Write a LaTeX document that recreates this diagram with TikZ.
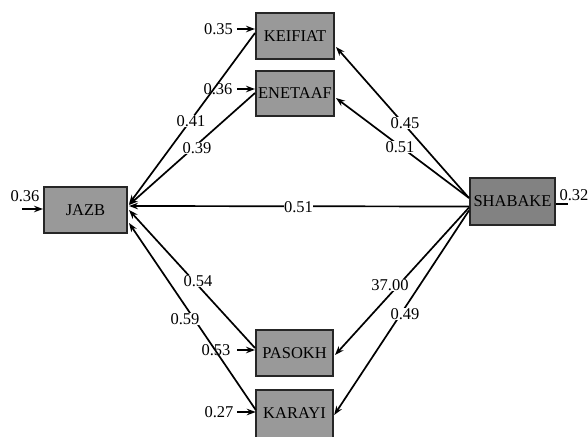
\documentclass[tikz,border=0pt]{standalone}
\usepackage{fontspec}
\setmainfont{Liberation Serif}
\usetikzlibrary{arrows.meta,calc}
\definecolor{boxgray}{RGB}{153,153,153}
\definecolor{boxdark}{RGB}{130,130,130}
\tikzset{
  var/.style={draw=black!85, line width=2pt, fill=boxgray, minimum width=78pt, minimum height=46pt, inner sep=0pt, font=\fontsize{16.5}{19}\selectfont},
  conn/.style={line width=1.7pt, -{Stealth[length=9pt,width=6.5pt]}},
  plain/.style={line width=1.7pt},
  lbl/.style={fill=white, inner sep=0.5pt, font=\fontsize{16.5}{19}\selectfont},
  err/.style={inner sep=0.5pt, font=\fontsize{16.5}{19}\selectfont}
}
\begin{document}
\begin{tikzpicture}[x=1pt,y=-1pt]
\useasboundingbox (0,0) rectangle (588,436);
% boxes
\node[var] (KEIFIAT) at (295,36) {KEIFIAT};
\node[var, minimum height=45pt] (ENETAAF) at (295,93.5) {ENETAAF};
\node[var, minimum width=83pt] (JAZB) at (85.5,210) {JAZB};
\node[var, fill=boxdark, minimum width=85pt, minimum height=47pt] (SHABAKE) at (512.5,201.5) {SHABAKE};
\node[var, minimum width=77pt] (PASOKH) at (294.5,353) {PASOKH};
\fill[boxgray] (256,390) rectangle (333,446);
\draw[black!85, line width=2pt] (256,446) -- (256,390) -- (333,390) -- (333,446);
\node[minimum width=77pt, minimum height=46pt, inner sep=0pt, font=\fontsize{16.5}{19}\selectfont] (KARAYI) at (294.5,413) {KARAYI};

% error terms
\node[err] (eK) at (218.5,29) {0.35};
\node[err] (eE) at (218,89) {0.36};
\node[err] (eJ) at (25,196) {0.36};
\node[err] (eP) at (216,350) {0.53};
\node[err] (eR) at (219,412) {0.27};
\node[err] (eS) at (574,195) {0.32};
\coordinate (aK) at (237,29);
\coordinate (aE) at (237,89);
\coordinate (aJ) at (22,209);
\coordinate (aP) at (237,350);
\coordinate (aR) at (237,412);
\coordinate (aS) at (568,204);
\draw[conn] (aK) -- ($(KEIFIAT.west)+(0,-7)$);
\draw[conn] (aE) -- ($(ENETAAF.west)+(0,-4.5)$);
\draw[conn] (aJ) -- ($(JAZB.west)+(0,-1)$);
\draw[conn] (aP) -- ($(PASOKH.west)+(0,-3)$);
\draw[conn] (aR) -- ($(KARAYI.west)+(0,-1)$);
\draw[plain] ($(SHABAKE.east)+(0,2.5)$) -- (aS);

% paths to JAZB
\draw[conn] ($(KEIFIAT.west)+(0,-3)$) -- ($(JAZB.east)+(1,-6)$);
\draw[conn] ($(ENETAAF.west)+(0,-0.5)$) -- ($(JAZB.east)+(1,-5)$);
\draw[conn] ($(SHABAKE.west)+(0,5)$) -- ($(JAZB.east)+(1,-4)$);
\draw[conn] ($(PASOKH.west)+(0,-5)$) -- ($(JAZB.east)+(1,0)$);
\draw[conn] ($(KARAYI.west)+(0,-3)$) -- ($(JAZB.east)+(1,13)$);
% paths from SHABAKE
\draw[conn] ($(SHABAKE.west)+(0,-3.5)$) -- ($(KEIFIAT.east)+(1,11)$);
\draw[conn] ($(SHABAKE.west)+(0,-3.5)$) -- ($(ENETAAF.east)+(1,4.5)$);
\draw[conn] ($(SHABAKE.west)+(0,6)$) -- ($(PASOKH.east)+(1,2)$);
\draw[conn] ($(SHABAKE.west)+(0,9)$) -- ($(KARAYI.east)+(1,2)$);

% path labels
\node[lbl] (l1) at (191,121) {0.41};
\node[lbl] (l2) at (197,148) {0.39};
\node[lbl] (l3) at (405,123) {0.45};
\node[lbl] (l4) at (400,147) {0.51};
\node[lbl] (l5) at (298.5,207) {0.51};
\node[lbl] (l6) at (198,281) {0.54};
\node[lbl] (l7) at (185,319) {0.59};
\node[lbl] (l8) at (390,285) {37.00};
\node[lbl] (l9) at (405,314) {0.49};
\end{tikzpicture}
\end{document}
